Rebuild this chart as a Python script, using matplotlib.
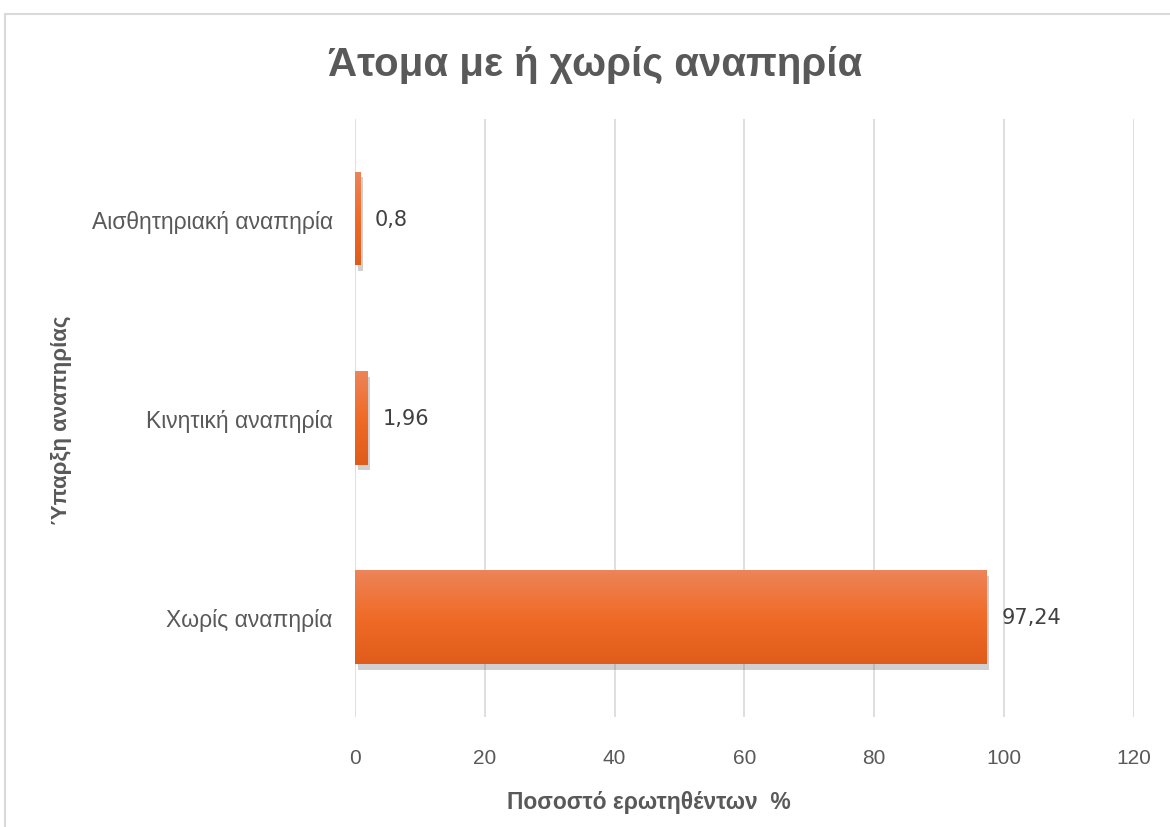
import matplotlib
matplotlib.use("Agg")
import matplotlib.pyplot as plt
from matplotlib import font_manager
from matplotlib.patches import Rectangle
import matplotlib.patheffects as pe
import numpy as np

categories = ["Χωρίς αναπηρία", "Κινητική αναπηρία", "Αισθητηριακή αναπηρία"]
values = [97.24, 1.96, 0.8]
value_labels = ["97,24", "1,96", "0,8"]
xticks = [0, 20, 40, 60, 80, 100, 120]

title = "Άτομα με ή χωρίς αναπηρία"
xlabel = "Ποσοστό ερωτηθέντων  %"
ylabel = "Ύπαρξη αναπηρίας"

names = {f.name for f in font_manager.fontManager.ttflist}
narrow = "Liberation Sans Narrow" if "Liberation Sans Narrow" in names else "Liberation Sans"
plt.rcParams['font.family'] = [narrow, 'DejaVu Sans']

grey = "#595959"

fig = plt.figure(figsize=(11.7, 8.28), dpi=100)
ax = fig.add_axes([0.3034, 0.1329, 0.6658, 0.7222])

# chart border
fig.patches.append(Rectangle((5 / 1170, -0.05), 1.1, 0.05 + 1 - 15 / 828,
                             transform=fig.transFigure, fill=False,
                             edgecolor="#D9D9D9", linewidth=1.5))

y = np.arange(len(categories))
h = 0.47
bars = ax.barh(y, values, height=h, color="#EF6C2B", zorder=3,
               path_effects=[pe.SimplePatchShadow(offset=(2, -4), alpha=0.3,
                                                  shadow_rgbFace="#666666"),
                             pe.Normal()])

# vertical gradient on each bar (light on top)
grad = np.linspace(0, 1, 256).reshape(-1, 1)
cmap = matplotlib.colors.LinearSegmentedColormap.from_list(
    "g", ["#ED8458", "#F06B28", "#E05C1A"])
for b in bars:
    x0, y0 = b.get_x(), b.get_y()
    w, hh = b.get_width(), b.get_height()
    im = ax.imshow(grad, extent=(x0, x0 + w, y0, y0 + hh), aspect="auto",
                   cmap=cmap, zorder=4, origin="upper")
    im.set_clip_path(b)

for yi, v, lab in zip(y, values, value_labels):
    ax.text(v + 2.3, yi, lab, va="center", ha="left", fontsize=15,
            color="#404040", family="DejaVu Sans")

ax.set_xlim(0, 120)
ax.set_ylim(-0.5, len(categories) - 0.5)
ax.set_xticks(xticks)
ax.set_xticklabels([str(t) for t in xticks])
ax.set_yticks(y)
ax.set_yticklabels(categories)
ax.tick_params(axis="both", length=0, labelsize=15, colors=grey)
ax.tick_params(axis="y", labelsize=16.5)
ax.tick_params(axis="x", pad=22)
ax.tick_params(axis="y", pad=16)
ax.grid(axis="x", color="#D9D9D9", linewidth=1.2, zorder=0)
for s in ax.spines.values():
    s.set_visible(False)

fig.text(649 / 1170, 1 - 803 / 828, xlabel, ha="center", va="center",
         fontsize=16.5, fontweight="bold", color=grey)
fig.text(62 / 1170, 1 - 420 / 828, ylabel, ha="center", va="center",
         rotation=90, fontsize=16, fontweight="bold", color=grey)
fig.text(595 / 1170, 1 - 65 / 828, title, ha="center", va="center",
         fontsize=29, fontweight="bold", color=grey)

fig.savefig("out.png", dpi=100)
